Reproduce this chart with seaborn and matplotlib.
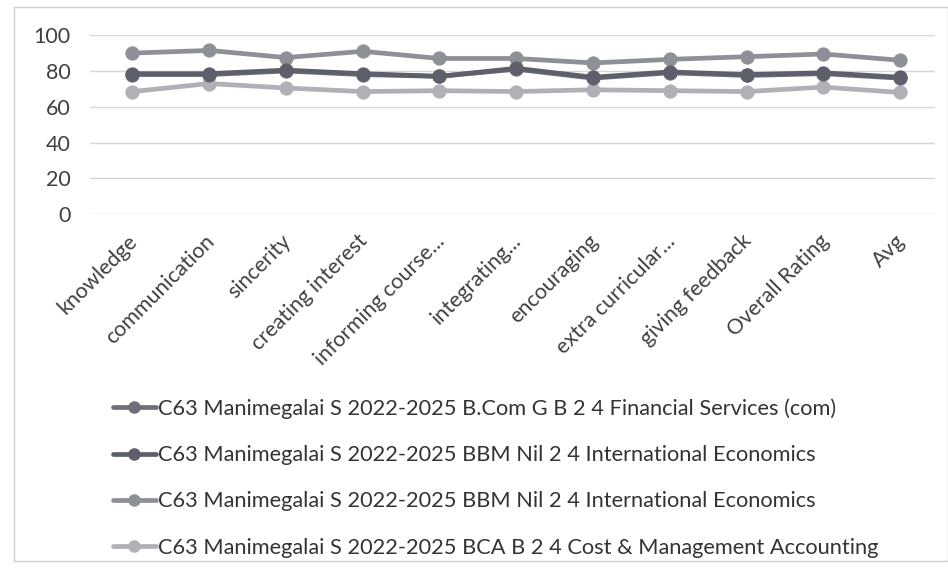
import pandas as pd
import matplotlib.pyplot as plt
import matplotlib.patches as mpatches
import matplotlib.transforms as mtransforms
from matplotlib.lines import Line2D
import seaborn as sns

sns.set_theme(style="white")
plt.rcParams["font.family"] = ["Lato", "DejaVu Sans"]

# ----- donnees -----
criteres = ["knowledge", "communication", "sincerity", "creating interest",
            "informing course...", "integrating...", "encouraging",
            "extra curricular...", "giving feedback", "Overall Rating", "Avg"]

noms_series = [
    "C63 Manimegalai S 2022-2025 B.Com G B 2 4 Financial Services (com)",
    "C63 Manimegalai S 2022-2025 BBM Nil 2 4 International Economics",
    "C63 Manimegalai S 2022-2025 BBM Nil 2 4 International Economics",
    "C63 Manimegalai S 2022-2025 BCA B 2 4 Cost & Management Accounting",
]

bcom_fin = [78, 78, 80, 78, 77, 81, 76, 79, 77.5, 78.5, 76]
bbm_eco_1 = [78.5, 78.5, 80.5, 78.5, 77, 81.5, 76.5, 79.5, 78, 79, 76.5]
bbm_eco_2 = [90, 91.5, 87.5, 91, 87, 87, 84.5, 86.5, 88, 89.5, 86]
bca_cout = [68.5, 73, 70.5, 68.5, 69, 68.5, 69.5, 69, 68.5, 71, 68]

couleurs = ["#6e7079", "#5d606b", "#8e9098", "#afb1b7"]

# format long pour seaborn (cle unique par serie, deux noms sont identiques)
lignes = []
for i, vals in enumerate([bcom_fin, bbm_eco_1, bbm_eco_2, bca_cout]):
    for c, v in zip(criteres, vals):
        lignes.append({"serie": f"s{i}", "critere": c, "score": v})
df = pd.DataFrame(lignes)

fig = plt.figure(figsize=(9.48, 5.68), dpi=100)
ax = fig.add_axes([0.095, 0.623, 0.891, 0.315])

# ordre de trace : la ligne claire en dessous, les foncees au dessus
ordre = ["s3", "s2", "s0", "s1"]
palette = {f"s{i}": couleurs[i] for i in range(4)}
for s in ordre:
    sns.lineplot(data=df[df["serie"] == s], x="critere", y="score",
                 color=palette[s], marker="o", markersize=9.5, lw=3.4,
                 markeredgecolor=palette[s], sort=False, ax=ax, legend=False)

ax.set_ylim(0, 100)
ax.set_xlim(-0.55, 10.45)
ax.set_yticks([0, 20, 40, 60, 80, 100])
ax.yaxis.grid(True, color="#d6d6d6", lw=1)
ax.set_xlabel("")
ax.set_ylabel("")
for sp in ax.spines.values():
    sp.set_visible(False)
ax.tick_params(axis="y", length=0, labelsize=15.5, labelcolor="#404040", pad=14)
ax.tick_params(axis="x", length=0, labelsize=15.5, labelcolor="#404040", pad=12)
ax.set_xticks(range(len(criteres)))
ax.set_xticklabels(criteres, rotation=45, ha="right", rotation_mode="anchor")
# petit decalage a gauche des etiquettes (comme dans l'original)
decal = mtransforms.ScaledTranslation(-5 / 100, 0, fig.dpi_scale_trans)
for lab in ax.get_xticklabels():
    lab.set_transform(lab.get_transform() + decal)

# legende sous le graphe, une entree par ligne
handles = [Line2D([0], [0], color=couleurs[i], lw=3.4, marker="o",
                  markersize=8) for i in range(4)]
fig.legend(handles, noms_series, loc="upper left",
           bbox_to_anchor=(0.098, 0.333), frameon=False, fontsize=15.7,
           labelcolor="#333333", handlelength=2.0, handletextpad=0.1,
           labelspacing=1.2)

# cadre clair autour du graphique
fig.patches.append(mpatches.Rectangle((0.015, 0.012), 0.985, 0.975,
                                      transform=fig.transFigure, fill=False,
                                      edgecolor="#d0d0d0", lw=1))

fig.savefig("out.png", dpi=100)
plt.close(fig)
